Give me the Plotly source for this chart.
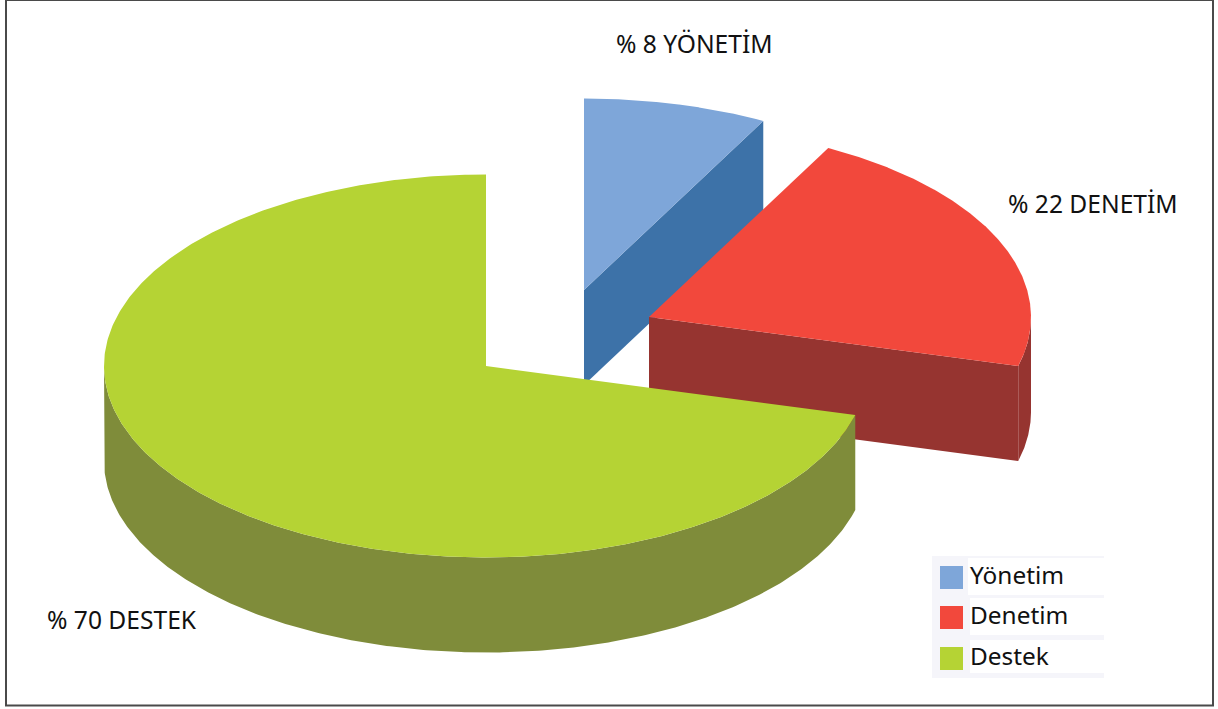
import numpy as np
import plotly.graph_objects as go

# Data
categories = ["Yönetim", "Denetim", "Destek"]
values = [8, 22, 70]
slice_labels = ["% 8 YÖNETİM", "% 22 DENETİM", "% 70 DESTEK"]

# Style
top_colors = ["#7EA6D9", "#F2483C", "#B5D334"]
side_colors = ["#3D72A8", "#963430", "#7F8C3A"]
frame_color = "#4A4A4A"
panel_color = "#F5F5FA"
FONT = "Noto Sans"

# Layout of the exploded 3-D pie, in screen pixels
W, H = 1218, 709
RX, RY, DEPTH = 382, 191.5, 95
centers = [(584, 290), (649, 317), (486, 366)]
label_pos = [(614, 43), (1006, 203), (45, 619)]
PERSPECTIVE = np.radians(3.5)


def warp(a):
    """Slight foreshortening of the clockwise-from-top angle."""
    return a - PERSPECTIVE * np.sin(a) ** 2


def rim(c, a):
    p = warp(a)
    return c[0] + RX * np.sin(p), c[1] - RY * np.cos(p)


fractions = np.array(values) / sum(values)
ends = np.cumsum(fractions) * 2 * np.pi
starts = ends - fractions * 2 * np.pi

fig = go.Figure()


def poly(xs, ys, color, name):
    fig.add_trace(go.Scatter(
        x=xs, y=ys, mode="lines", fill="toself", fillcolor=color,
        line=dict(width=0, color=color), name=name,
        hoverinfo="name", showlegend=False,
    ))


for i, cat in enumerate(categories):
    c = centers[i]
    a0, a1 = starts[i], ends[i]
    arc = np.linspace(a0, a1, 480)
    ax, ay = rim(c, arc)

    # cut face at the end of the slice, visible for the two right-hand slices
    ex, ey = rim(c, a1)
    if i < 2:
        poly([c[0], ex, ex, c[0]], [c[1], ey, ey + DEPTH, c[1] + DEPTH], side_colors[i], cat)

    # outer wall where the rim faces the viewer (lower half of the ellipse)
    front = arc[np.cos(warp(arc)) <= 0]
    if len(front):
        fx, fy = rim(c, front)
        poly(np.r_[fx, fx[::-1]], np.r_[fy, fy[::-1] + DEPTH], side_colors[i], cat)

    # top face
    poly(np.r_[c[0], ax, c[0]], np.r_[c[1], ay, c[1]], top_colors[i], cat)

# Legend swatches
legend_y = [577.5, 617.5, 658.5]
for i, cat in enumerate(categories):
    fig.add_trace(go.Scatter(
        x=[951.5], y=[legend_y[i]], mode="markers", name=cat,
        marker=dict(symbol="square", size=23, color=top_colors[i], line=dict(width=0)),
        hoverinfo="name", showlegend=False,
    ))

shapes = [
    # legend panel and its white rows
    dict(type="rect", x0=932, x1=1104, y0=556, y1=678, fillcolor=panel_color, line_width=0, layer="below"),
    dict(type="rect", x0=968, x1=1104, y0=558, y1=595, fillcolor="white", line_width=0, layer="below"),
    dict(type="rect", x0=970, x1=1104, y0=598, y1=635, fillcolor="white", line_width=0, layer="below"),
    dict(type="rect", x0=970, x1=1104, y0=640, y1=673, fillcolor="white", line_width=0, layer="below"),
    # outer frame
    dict(type="rect", x0=6, x1=1213, y0=0, y1=705.5, fillcolor="rgba(0,0,0,0)",
         line=dict(color=frame_color, width=2), layer="above"),
]

annotations = []
for txt, (x, y) in zip(slice_labels, label_pos):
    annotations.append(dict(x=x, y=y, text=txt, showarrow=False, xanchor="left", yanchor="middle",
                            xref="x", yref="y", font=dict(family=FONT, size=24.6, color="#111111")))
for cat, y in zip(categories, legend_y):
    annotations.append(dict(x=968, y=y - 3, text=cat, showarrow=False, xanchor="left", yanchor="middle",
                            xref="x", yref="y", font=dict(family=FONT, size=24.4, color="#111111")))

fig.update_layout(
    width=W, height=H, autosize=False,
    margin=dict(l=0, r=0, t=0, b=0),
    paper_bgcolor="white", plot_bgcolor="white",
    xaxis=dict(range=[0, W], visible=False, fixedrange=True),
    yaxis=dict(range=[H, 0], visible=False, fixedrange=True),
    shapes=shapes, annotations=annotations, showlegend=False,
)

fig.write_html("out.html", config=dict(displayModeBar=False),
               post_script="document.body.style.margin='0';document.body.style.overflow='hidden';")
